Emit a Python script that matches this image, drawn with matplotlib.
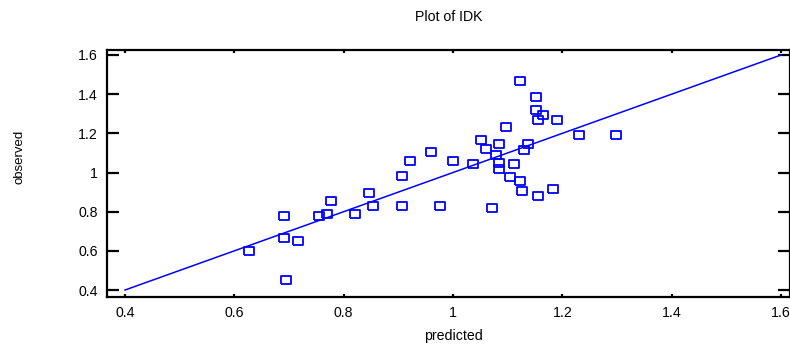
import matplotlib
matplotlib.use("Agg")
import matplotlib.pyplot as plt

plt.rcParams["font.family"] = ["Liberation Sans", "DejaVu Sans"]

# observed vs predicted IDK values
predicted = [1.122, 1.152, 1.152, 1.164, 1.156, 1.190, 1.231, 1.298, 1.097, 1.052,
             1.085, 1.060, 1.138, 1.130, 1.079, 0.959, 1.000, 1.037, 1.085, 1.085,
             1.112, 1.104, 1.122, 1.127, 1.156, 1.182, 0.922, 0.907, 0.907, 0.977,
             1.071, 0.627, 0.691, 0.691, 0.716, 0.694, 0.754, 0.769, 0.776, 0.821,
             0.847, 0.854]
observed = [1.467, 1.387, 1.321, 1.294, 1.268, 1.268, 1.190, 1.190, 1.233, 1.166,
            1.147, 1.122, 1.147, 1.114, 1.088, 1.104, 1.061, 1.044, 1.049, 1.017,
            1.044, 0.976, 0.957, 0.906, 0.881, 0.915, 1.061, 0.984, 0.830, 0.830,
            0.821, 0.598, 0.777, 0.666, 0.649, 0.452, 0.777, 0.787, 0.855, 0.787,
            0.897, 0.831]
diag = [0.4, 1.6]
ticks = [0.4, 0.6, 0.8, 1.0, 1.2, 1.4, 1.6]
tick_labels = ["0.4", "0.6", "0.8", "1", "1.2", "1.4", "1.6"]

blue = "#0000FF"

fig = plt.figure(figsize=(7.9, 3.45), dpi=100)
ax = fig.add_axes([0.1354, 0.1391, 0.8646, 0.716])

ax.plot(diag, diag, color=blue, lw=1.1, zorder=2)

# slightly wide open rectangles as markers
rect = [(-1.2, -1.0), (1.2, -1.0), (1.2, 1.0), (-1.2, 1.0), (-1.2, -1.0)]
ax.plot(predicted, observed, ls="none", marker=rect, ms=6.8,
        mfc="none", mec=blue, mew=1.3, zorder=3)

ax.set_xlim(0.367, 1.6164)
ax.set_ylim(0.3643, 1.6255)

ax.set_xticks(ticks)
ax.set_xticklabels(tick_labels)
ax.set_yticks(ticks)
ax.set_yticklabels(tick_labels)

for s in ax.spines.values():
    s.set_linewidth(1.6)

ax.tick_params(axis="x", which="major", direction="in", length=2.5, width=1.6,
               top=True, bottom=True, labelsize=10.2, pad=6.5, colors="black")
ax.tick_params(axis="y", which="major", direction="in", length=8.6, width=1.6,
               left=True, right=True, labelsize=10.2, pad=6.5, colors="black")

ax.set_title("Plot of IDK", fontsize=10.2, pad=21)
ax.set_xlabel("predicted", fontsize=10.2)
ax.set_ylabel("observed", fontsize=9.5)
ax.xaxis.set_label_coords(0.507, -0.13)
ax.yaxis.set_label_coords(-0.12, 0.567)

fig.savefig("out.png", dpi=100)
plt.close(fig)
